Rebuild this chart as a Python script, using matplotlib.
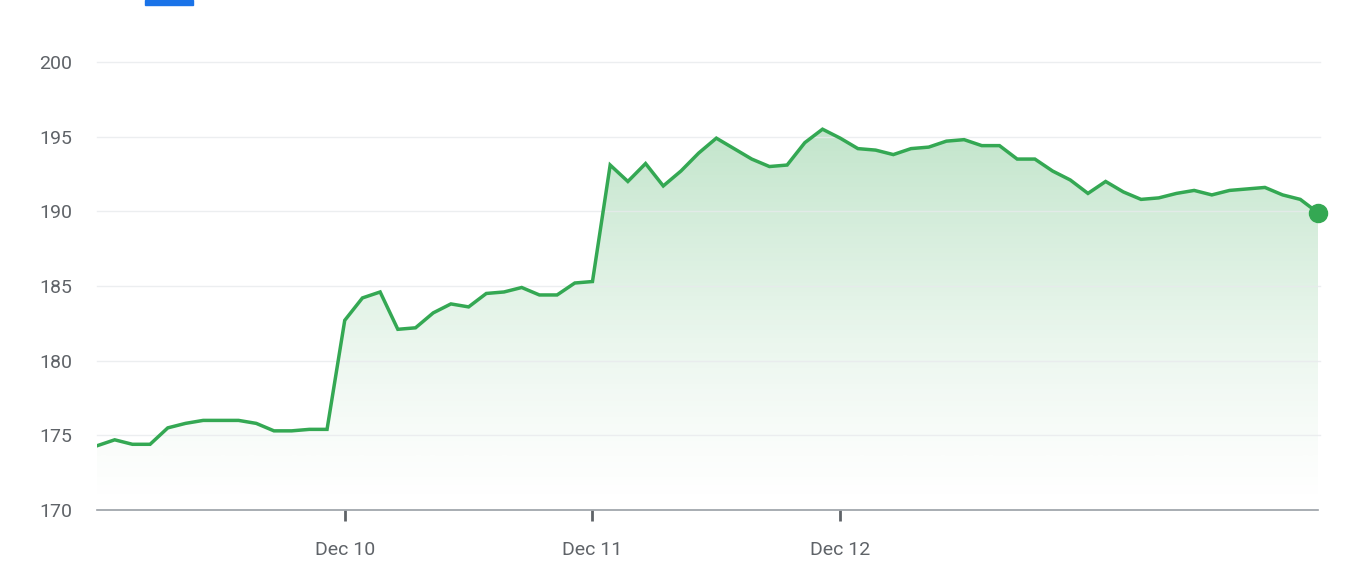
import numpy as np
import matplotlib
matplotlib.use("Agg")
import matplotlib.pyplot as plt
from matplotlib.patches import Rectangle
from matplotlib.colors import LinearSegmentedColormap

plt.rcParams['font.family'] = ['Roboto', 'DejaVu Sans']

prices = [174.3, 174.7, 174.4, 174.4, 175.5, 175.8, 176.0, 176.0, 176.0, 175.8, 175.3, 175.3, 175.4, 175.4,
          182.7, 184.2, 184.6, 182.1, 182.2, 183.2, 183.8, 183.6, 184.5, 184.6, 184.9, 184.4, 184.4, 185.2, 185.3,
          193.1, 192.0, 193.2, 191.7, 192.7, 193.9, 194.9, 194.2, 193.5, 193.0, 193.1, 194.6, 195.5, 194.9, 194.2,
          194.1, 193.8, 194.2, 194.3, 194.7, 194.8, 194.4, 194.4, 193.5, 193.5, 192.7, 192.1, 191.2, 192.0, 191.3,
          190.8, 190.9, 191.2, 191.4, 191.1, 191.4, 191.5, 191.6, 191.1, 190.8, 189.9]
tick_pos = [14, 28, 42]
tick_labels = ["Dec 10", "Dec 11", "Dec 12"]
y_ticks = [170, 175, 180, 185, 190, 195, 200]

x = np.arange(len(prices))
green = "#34a853"

fig = plt.figure(figsize=(13.6, 5.86), dpi=100)
ax = fig.add_axes([97/1360, (586-510)/586, (1318-97)/1360, (510-62)/586])
ax.set_xlim(0, len(prices)-1)
ax.set_ylim(170, 200)

grad = np.linspace(0, 1, 256).reshape(-1, 1) ** 1.3
cmap = LinearSegmentedColormap.from_list("g", [(0.204, 0.659, 0.325, 0.0), (0.204, 0.659, 0.325, 0.30)])
ymaxp = max(prices)
im = ax.imshow(grad, extent=[0, len(prices)-1, 170, ymaxp], origin="lower", aspect="auto", cmap=cmap, zorder=1)
poly = ax.fill_between(x, prices, 170, color="none")
im.set_clip_path(poly.get_paths()[0], transform=ax.transData)

ax.plot(x, prices, color=green, lw=2.5, zorder=3, solid_joinstyle="miter")
ax.plot(x[-1], prices[-1], "o", color=green, ms=13, zorder=4, clip_on=False)

for yv in y_ticks[1:]:
    ax.axhline(yv, color="#e8eaed", lw=1, alpha=0.8, zorder=2, xmax=1.002, clip_on=False)

for s in ["top", "right", "left"]:
    ax.spines[s].set_visible(False)
ax.spines["bottom"].set_color("#9aa0a6")
ax.spines["bottom"].set_linewidth(1.2)

ax.set_yticks(y_ticks)
ax.set_yticklabels([str(v) for v in y_ticks])
ax.tick_params(axis="y", length=0, pad=18, labelsize=14, labelcolor="#5f6368")
ax.set_xticks(tick_pos)
ax.set_xticklabels(tick_labels)
ax.tick_params(axis="x", length=8, width=2, color="#5f6368", pad=14, labelsize=14, labelcolor="#5f6368")

fig.patches.append(Rectangle((145/1360, 1-5/586), 48/1360, 5/586, transform=fig.transFigure,
                             color="#1a73e8", zorder=5))

fig.savefig("out.png", dpi=100)
